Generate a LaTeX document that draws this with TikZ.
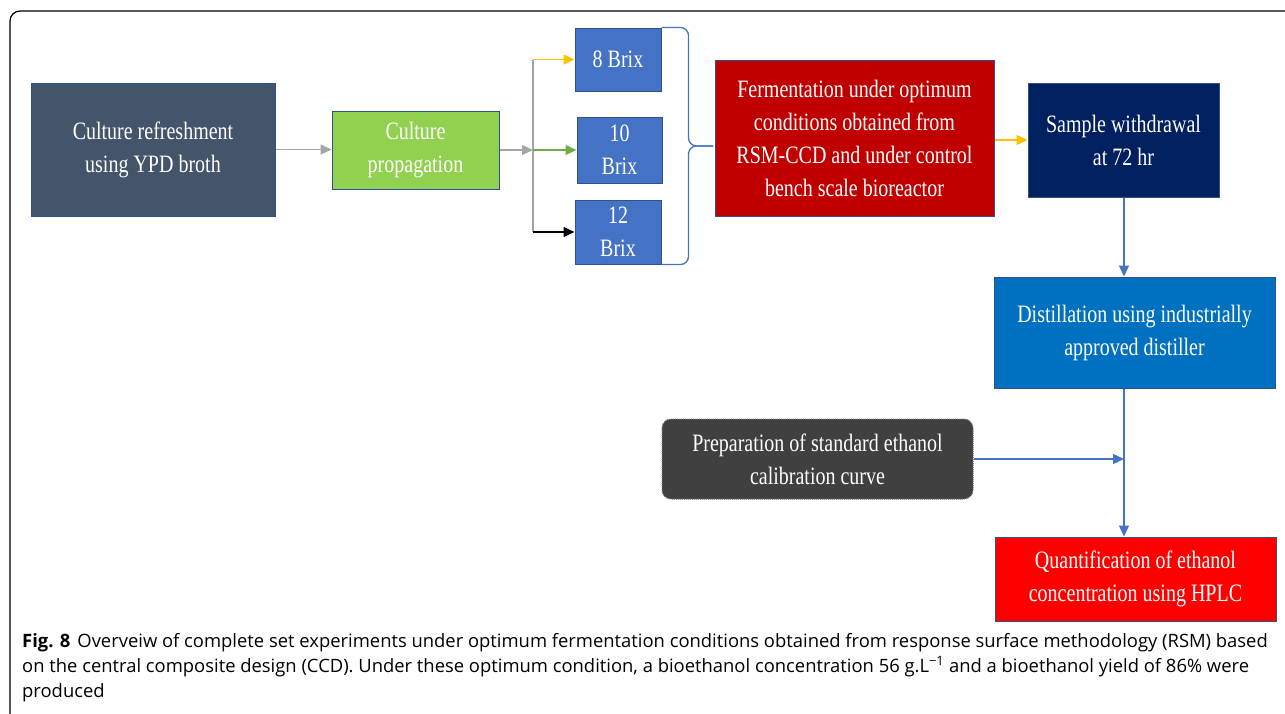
\documentclass[tikz,border=0pt]{standalone}
\usepackage{fontspec}
\newfontfamily\boxfont{Liberation Serif}[FakeStretch=0.8]
\newfontfamily\capfont{Open Sans}
\usetikzlibrary{arrows.meta}
\definecolor{slate}{HTML}{44546A}
\definecolor{leafgreen}{HTML}{92D050}
\definecolor{brixblue}{HTML}{4472C4}
\definecolor{darkred}{HTML}{C00000}
\definecolor{navy}{HTML}{002060}
\definecolor{oceanblue}{HTML}{0070C0}
\definecolor{charcoal}{HTML}{404040}
\definecolor{brightred}{HTML}{FF0000}
\definecolor{edgeblue}{HTML}{2F528F}
\definecolor{arrowgray}{HTML}{A5A5A5}
\definecolor{amber}{HTML}{FFC000}
\definecolor{arrowgreen}{HTML}{70AD47}
\begin{document}
\begin{tikzpicture}[x=1pt,y=-1pt,
  stepbox/.style={draw=edgeblue,line width=1pt,text=white,align=center,inner sep=0pt,
    font=\boxfont\fontsize{25}{33}\selectfont},
  link/.style={line width=1.3pt,-{Triangle[length=11pt,width=10pt]}}]
\useasboundingbox (0,0) rectangle (1285,713);
% frame round the figure
\draw[line width=1.2pt,rounded corners=10pt] (10,730) -- (10,11) -- (1300,11);
% boxes
\node[stepbox,fill=slate,minimum width=244pt,minimum height=133pt] (refresh) at (153,149.5) {Culture refreshment\\using YPD broth};
\node[stepbox,fill=leafgreen,minimum width=167pt,minimum height=78pt] (prop) at (415.5,150) {Culture\\propagation};
\node[stepbox,fill=brixblue,minimum width=86pt,minimum height=63pt] (b8) at (618,59.5) {8 Brix};
\node[stepbox,fill=brixblue,minimum width=85pt,minimum height=66pt] (b10) at (619.5,150) {10\\Brix};
\node[stepbox,fill=brixblue,minimum width=86pt,minimum height=64pt] (b12) at (618,232) {12\\Brix};
\node[stepbox,fill=darkred,minimum width=279pt,minimum height=156pt] (ferm) at (854.5,138) {Fermentation under optimum\\conditions obtained from\\RSM-CCD and under control\\bench scale bioreactor};
\node[stepbox,fill=navy,minimum width=191pt,minimum height=114pt] (sample) at (1123.5,140) {Sample withdrawal\\at 72 hr};
\node[stepbox,fill=oceanblue,minimum width=281pt,minimum height=111pt] (dist) at (1134.5,332.5) {Distillation using industrially\\approved distiller};
\node[stepbox,fill=charcoal,draw=gray!70!edgeblue,densely dotted,rounded corners=9pt,minimum width=311pt,minimum height=80pt] (prep) at (817.5,459) {Preparation of standard ethanol\\calibration curve};
\node[stepbox,fill=brightred,minimum width=281pt,minimum height=84pt] (quant) at (1135.5,579) {Quantification of ethanol\\concentration using HPLC};
% connectors
\coordinate (split) at (533,150);
\coordinate (tip) at (713,146);
\coordinate (join) at (1124,459);
\draw[link,arrowgray] (refresh.east) -- (refresh.east -| prop.west);
\draw[link,arrowgray] (prop.east) -- (split);
\draw[line width=1.3pt,arrowgray] (split |- b8.west) -- (split |- b12.west);
\draw[link,amber] (split |- b8.west) -- (b8.west);
\draw[link,arrowgreen] (split) -- (b10.west);
\draw[link,black] (split |- b12.west) -- (b12.west);
\draw[line width=1.3pt,brixblue,rounded corners=8pt] (b8.north east) -- ++(27,0) |- (tip);
\draw[line width=1.3pt,brixblue,rounded corners=8pt] (b12.south east) -- ++(27,0) |- (tip);
\draw[link,amber] (ferm.east |- sample.west) -- (sample.west);
\draw[link,brixblue] (sample.south -| join) -- (dist.north -| join);
\draw[line width=1.3pt,brixblue] (dist.south -| join) -- (join);
\draw[link,brixblue] (prep.east) -- (join);
\draw[link,brixblue] (join) -- (quant.north -| join);
% caption
\node[anchor=base west,inner sep=0pt,align=left,font=\capfont\fontsize{18.4}{25}\selectfont] (caption) at (22,697)
  {\textbf{Fig. 8}\hspace{7pt}Overveiw of complete set experiments under optimum fermentation conditions obtained from response surface methodology (RSM) based\\
  on the central composite design (CCD). Under these optimum condition, a bioethanol concentration 56 g.L\textsuperscript{−1} and a bioethanol yield of 86\% were\\
  produced};
\end{tikzpicture}
\end{document}
